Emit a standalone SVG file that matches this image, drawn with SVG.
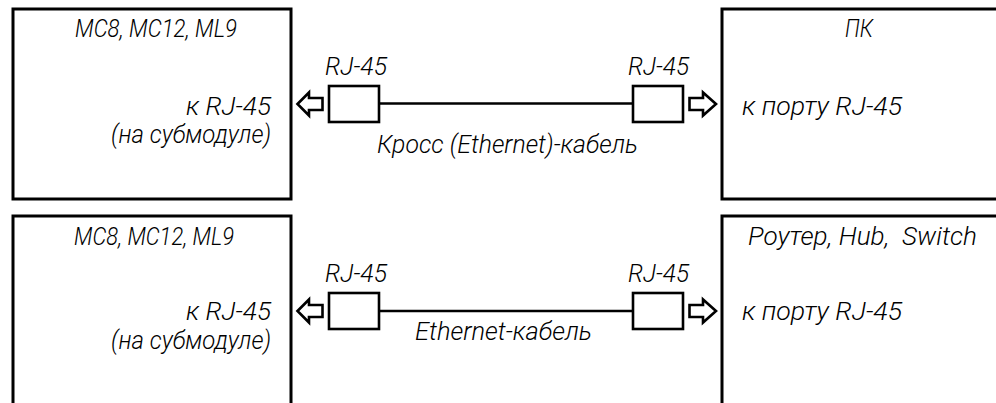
<svg xmlns="http://www.w3.org/2000/svg" width="996" height="403" viewBox="0 0 996 403">
<style>
.box{fill:#fff;stroke:#000;stroke-width:3}
.conn{fill:#fff;stroke:#000;stroke-width:2.6}
.arr{fill:#fff;stroke:#000;stroke-width:2.6;stroke-linejoin:miter}
.wire{stroke:#000;stroke-width:2.6;fill:none}
text{font-family:Roboto,"Liberation Sans",sans-serif;font-style:italic;font-weight:300;fill:#000;white-space:pre}
.t{font-size:25px}
.l{font-size:25.5px}
</style>
<rect width="996" height="403" fill="#fff"/>
<g id="node-mc-top">
<rect class="box" x="13" y="9" width="278" height="190"/>
<text class="t" x="75" y="37" textLength="162" lengthAdjust="spacingAndGlyphs">MC8, MC12, ML9</text>
<text class="l" x="186" y="115" textLength="85" lengthAdjust="spacingAndGlyphs">к RJ-45</text>
<text class="l" x="111" y="143" textLength="160" lengthAdjust="spacingAndGlyphs">(на субмодуле)</text>
</g>
<g id="node-pc">
<rect class="box" x="722" y="9" width="290" height="190"/>
<text class="t" x="845" y="37" textLength="28" lengthAdjust="spacingAndGlyphs">ПК</text>
<text class="l" x="742" y="115" textLength="160" lengthAdjust="spacingAndGlyphs">к порту RJ-45</text>
</g>
<g id="node-mc-bottom">
<rect class="box" x="13" y="216" width="278" height="200"/>
<text class="t" x="74" y="245" textLength="160" lengthAdjust="spacingAndGlyphs">MC8, MC12, ML9</text>
<text class="l" x="186" y="320" textLength="85" lengthAdjust="spacingAndGlyphs">к RJ-45</text>
<text class="l" x="111" y="349" textLength="160" lengthAdjust="spacingAndGlyphs">(на субмодуле)</text>
</g>
<g id="node-router">
<rect class="box" x="722" y="216" width="290" height="200"/>
<text class="t" x="748" y="245" textLength="229" lengthAdjust="spacingAndGlyphs">Роутер, Hub,  Switch</text>
<text class="l" x="742" y="320" textLength="160" lengthAdjust="spacingAndGlyphs">к порту RJ-45</text>
</g>
<g id="connectors">
<g id="cable-cross">
<polygon class="arr" points="297.5,104 309,92.5 309,98 322.5,98 322.5,110 309,110 309,115.5"/>
<rect class="conn" x="329" y="86" width="50" height="36"/>
<line class="wire" x1="379" y1="103.5" x2="633" y2="103.5"/>
<rect class="conn" x="633" y="86" width="50" height="36"/>
<polygon class="arr" points="716,104 703,92.5 703,98 689.5,98 689.5,110 703,110 703,115.5"/>
<text class="l" x="325" y="75" textLength="62" lengthAdjust="spacingAndGlyphs">RJ-45</text>
<text class="l" x="628" y="75" textLength="61" lengthAdjust="spacingAndGlyphs">RJ-45</text>
<text class="l" x="377" y="153" textLength="261" lengthAdjust="spacingAndGlyphs">Кросс (Ethernet)-кабель</text>
</g>
<g id="cable-straight">
<polygon class="arr" points="297.5,311 309,299.5 309,305 322.5,305 322.5,317 309,317 309,322.5"/>
<rect class="conn" x="329" y="293" width="50" height="36"/>
<line class="wire" x1="379" y1="311" x2="633" y2="311"/>
<rect class="conn" x="633" y="293" width="50" height="36"/>
<polygon class="arr" points="716,311 703,299.5 703,305 689.5,305 689.5,317 703,317 703,322.5"/>
<text class="l" x="325" y="282" textLength="62" lengthAdjust="spacingAndGlyphs">RJ-45</text>
<text class="l" x="628" y="282" textLength="61" lengthAdjust="spacingAndGlyphs">RJ-45</text>
<text class="l" x="415" y="340" textLength="177" lengthAdjust="spacingAndGlyphs">Ethernet-кабель</text>
</g>
</g>
</svg>
